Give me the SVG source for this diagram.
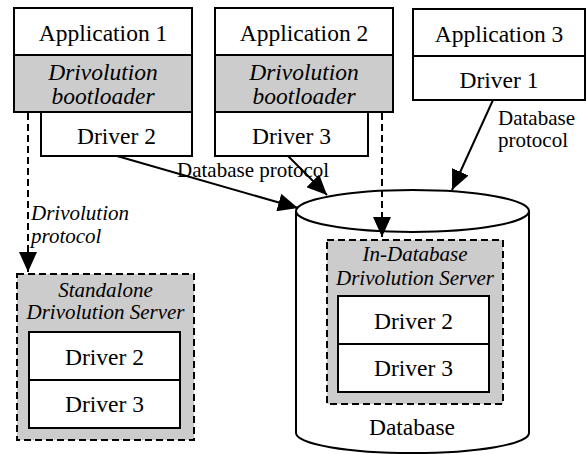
<svg xmlns="http://www.w3.org/2000/svg" width="586" height="454" viewBox="0 0 586 454">
<style>
.box{fill:#fff;stroke:#000;stroke-width:2}
.grey{fill:#cccccc;stroke:#000;stroke-width:2}
.dbox{fill:#cccccc;stroke:#000;stroke-width:2;stroke-dasharray:7,4}
text{font-family:"Liberation Serif","Times New Roman",Tinos,"Noto Serif","DejaVu Serif",FreeSerif,"Nimbus Roman",Times,serif;fill:#000}
.t{font-size:23.5px;text-anchor:middle}
.i{font-style:italic}
.s{font-size:21px}
.line{fill:none;stroke:#000;stroke-width:2}
.dash{fill:none;stroke:#000;stroke-width:2;stroke-dasharray:7,4}
</style>
<defs>
<marker id="ah" viewBox="0 0 20 18" refX="20" refY="9" markerWidth="20" markerHeight="18" markerUnits="userSpaceOnUse" orient="auto">
<path d="M0,0 L20,9 L0,18 z" fill="#000"/>
</marker>
</defs>

<g id="database">
<path class="box" d="M296,211 L296,433 A116.5,20 0 0 0 529,433 L529,211"/>
<ellipse class="box" cx="412.5" cy="211" rx="116.5" ry="21"/>
<text class="t" x="412" y="435">Database</text>
</g>

<g id="app1">
<rect class="box" x="14" y="8" width="178" height="47"/>
<text class="t" x="103" y="41">Application 1</text>
<rect class="grey" x="14" y="55" width="178" height="57"/>
<text class="t i" x="103" y="80">Drivolution</text>
<text class="t i" x="103" y="104">bootloader</text>
<rect class="box" x="41" y="112" width="151" height="44"/>
<text class="t" x="116.5" y="144">Driver 2</text>
</g>

<g id="app2">
<rect class="box" x="215" y="8" width="178" height="47"/>
<text class="t" x="304" y="41">Application 2</text>
<rect class="grey" x="215" y="55" width="178" height="57"/>
<text class="t i" x="304" y="80">Drivolution</text>
<text class="t i" x="304" y="104">bootloader</text>
<rect class="box" x="215" y="112" width="153" height="44"/>
<text class="t" x="291.5" y="144">Driver 3</text>
</g>

<g id="app3">
<rect class="box" x="413" y="9" width="172" height="47"/>
<text class="t" x="499" y="42">Application 3</text>
<rect class="box" x="413" y="56" width="172" height="44"/>
<text class="t" x="499" y="88">Driver 1</text>
</g>

<g id="standalone">
<rect class="dbox" x="17" y="274" width="177" height="166"/>
<text class="s i" x="105.5" y="297" text-anchor="middle">Standalone</text>
<text class="s i" x="105.5" y="319" text-anchor="middle">Drivolution Server</text>
<rect class="box" x="29" y="332" width="151" height="48"/>
<text class="t" x="104.5" y="365">Driver 2</text>
<rect class="box" x="29" y="380" width="151" height="48"/>
<text class="t" x="104.5" y="412">Driver 3</text>
</g>

<g id="indb">
<rect class="dbox" x="327" y="240" width="176" height="164"/>
<text class="s i" x="415" y="261" text-anchor="middle">In-Database</text>
<text class="s i" x="415" y="285" text-anchor="middle">Drivolution Server</text>
<rect class="box" x="338" y="296" width="151" height="48"/>
<text class="t" x="413.5" y="329">Driver 2</text>
<rect class="box" x="338" y="344" width="151" height="48"/>
<text class="t" x="413.5" y="376">Driver 3</text>
</g>

<g id="connectors">
<line class="dash" x1="28" y1="113" x2="28" y2="272" marker-end="url(#ah)"/>
<line class="dash" x1="382" y1="113" x2="382" y2="237" marker-end="url(#ah)"/>
<line class="line" x1="117" y1="156" x2="298" y2="208" marker-end="url(#ah)"/>
<line class="line" x1="288" y1="156" x2="327" y2="195" marker-end="url(#ah)"/>
<line class="line" x1="493" y1="100" x2="452" y2="190" marker-end="url(#ah)"/>
<text class="s" x="177" y="177">Database protocol</text>
<text class="s" x="498" y="125">Database</text>
<text class="s" x="498" y="147">protocol</text>
<text class="s i" x="31" y="220">Drivolution</text>
<text class="s i" x="31" y="243">protocol</text>
</g>
</svg>
